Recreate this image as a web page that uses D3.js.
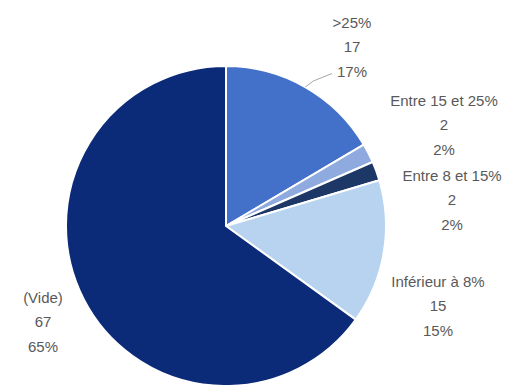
<!DOCTYPE html>
<html><head><meta charset="utf-8">
<script src="https://cdn.jsdelivr.net/npm/d3@7"></script>
<style>html,body{margin:0;padding:0;background:#fff;overflow:hidden}</style>
</head><body>
<svg id="c" width="511" height="385"></svg>
<script>
const categories = [">25%", "Entre 15 et 25%", "Entre 8 et 15%", "Inférieur à 8%", "(Vide)"];
const values = [17, 2, 2, 15, 67];
const colors = ["#4371c9", "#8eaadf", "#1d3767", "#b7d3f0", "#0b2a78"];
// label block centres relative to pie centre (layout, not data)
const labelOffsets = [[126, -179], [218, -101], [226, -26], [212, 80], [-183, 96]];

const W = 511, H = 385, cx = 226, cy = 226, R = 160;
const svg = d3.select("#c");
const g = svg.append("g").attr("transform", `translate(${cx},${cy})`);
const total = d3.sum(values);
const data = categories.map((c, i) => ({cat: c, value: values[i], color: colors[i], off: labelOffsets[i]}));
const pie = d3.pie().value(d => d.value).sort(null);
const arc = d3.arc().innerRadius(0).outerRadius(R);
const arcs = pie(data);

g.selectAll("path").data(arcs).join("path")
  .attr("d", arc)
  .attr("fill", d => d.data.color)
  .attr("stroke", "#fff")
  .attr("stroke-width", 2)
  .attr("stroke-linejoin", "round");

const pct = d3.format(".0%");
const lh = 24.5;
const lbl = g.selectAll("text.lbl").data(arcs).join("text")
  .attr("class", "lbl")
  .attr("text-anchor", "middle")
  .attr("font-family", "Liberation Sans, Arial, sans-serif")
  .attr("font-size", 15)
  .attr("fill", "#595959")
  .attr("transform", d => `translate(${d.data.off[0]},${d.data.off[1]})`);
lbl.each(function(d) {
  const t = d3.select(this);
  const lines = [d.data.cat, String(d.data.value), pct(d.data.value / total)];
  lines.forEach((s, i) => {
    t.append("tspan").attr("x", 0).attr("y", (i - 1) * lh).attr("dy", "0.35em").text(s);
  });
});

// leader line for first slice
const a0 = arcs[0];
const mid = (a0.startAngle + a0.endAngle) / 2;
const p0 = [Math.sin(mid) * R, -Math.cos(mid) * R];
g.append("path")
  .attr("d", d3.line()([p0, [p0[0] + 8, p0[1] - 6], [labelOffsets[0][0] - 20, labelOffsets[0][1] + lh + 2]]))
  .attr("fill", "none").attr("stroke", "#a6a6a6").attr("stroke-width", 1);
</script>
</body></html>
